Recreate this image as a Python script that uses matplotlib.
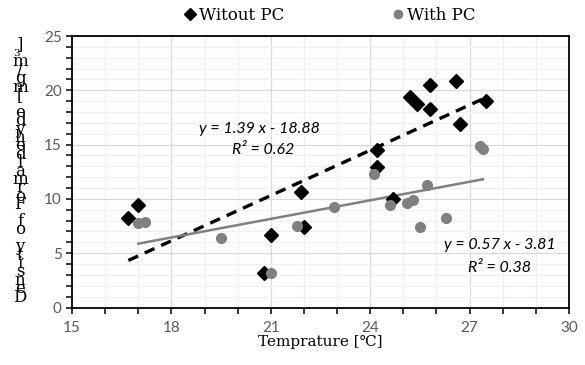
import numpy as np
import matplotlib.pyplot as plt
from matplotlib.lines import Line2D
from matplotlib.ticker import MultipleLocator

# Data
temp_without = [16.7, 17.0, 20.8, 21.0, 21.9, 22.0, 24.2, 24.2, 24.7, 25.2,
                25.4, 25.8, 25.8, 26.6, 26.7, 27.5]
dens_without = [8.2, 9.4, 3.2, 6.7, 10.6, 7.4, 14.5, 12.9, 10.0, 19.4,
                18.7, 20.5, 18.3, 20.9, 16.9, 19.0]

temp_with = [17.0, 17.2, 19.5, 21.0, 21.8, 22.9, 24.1, 24.6, 25.1, 25.3,
             25.5, 25.7, 26.3, 27.3, 27.4]
dens_with = [7.8, 7.9, 6.4, 3.2, 7.5, 9.3, 12.3, 9.4, 9.6, 9.9,
             7.4, 11.3, 8.2, 14.9, 14.6]

# trendline coefficients (slope, intercept, R^2) as printed on the chart
fit_without = (1.39, -18.88, 0.62)
fit_with = (0.57, -3.81, 0.38)

series_names = ['Witout PC', 'With PC']
x_ticks = [15, 18, 21, 24, 27, 30]
y_ticks = [0, 5, 10, 15, 20, 25]
ylabel_text = 'Density of Formaldehyde [mg/m3]'

W, H = 585, 365
fig = plt.figure(figsize=(W / 100, H / 100), dpi=100)
ax = fig.add_axes([72 / W, 1 - 307.5 / H, (569 - 72) / W, (307.5 - 36) / H])

grey = '#808080'
serif = ['DejaVu Serif', 'DejaVu Sans']

ax.set_xlim(15, 30)
ax.set_ylim(0, 25)
ax.set_xticks(x_ticks)
ax.set_yticks(y_ticks)
ax.xaxis.set_minor_locator(MultipleLocator(1))
ax.yaxis.set_minor_locator(MultipleLocator(1))
ax.grid(True, which='major', color='#d9d9d9', lw=0.9)
ax.grid(True, which='minor', color='#f0f0f0', lw=0.9)
ax.set_axisbelow(True)
for s in ax.spines.values():
    s.set_color('black')
    s.set_linewidth(1.3)
ax.tick_params(which='both', direction='out', length=4, width=1.1, color='black',
               labelsize=11, labelcolor='#595959')
ax.tick_params(axis='x', which='both', pad=6)
for lab in ax.get_xticklabels() + ax.get_yticklabels():
    lab.set_family('Lato')

# trendlines
xs = np.array([min(temp_without), max(temp_without)])
ax.plot(xs, fit_without[0] * xs + fit_without[1], color='black', lw=2.4,
        dashes=(3.2, 2.2), zorder=2)
xs2 = np.array([min(temp_with), max(temp_with)])
ax.plot(xs2, fit_with[0] * xs2 + fit_with[1], color=grey, lw=1.8, zorder=2)

ax.plot(temp_without, dens_without, 'D', color='black', ms=7, zorder=3)
ax.plot(temp_with, dens_with, 'o', color=grey, ms=7, zorder=3)

eq_font = dict(family='Lato', style='italic', fontsize=11.5, ha='center', va='center')
fig.text(259 / W, 1 - 129 / H, 'y = %.2f x - %.2f' % (fit_without[0], -fit_without[1]), **eq_font)
fig.text(263 / W, 1 - 150 / H, 'R² = %.2f' % fit_without[2], **eq_font)
fig.text(500 / W, 1 - 245 / H, 'y = %.2f x - %.2f' % (fit_with[0], -fit_with[1]), **eq_font)
fig.text(500 / W, 1 - 268 / H, 'R² = %.2f' % fit_with[2], **eq_font)

# x label
fig.text(320 / W, 1 - 342 / H, 'Temprature [℃]', family=serif, fontsize=11,
         ha='center', va='center')

# y label, characters stacked upright from bottom to top
y0, step = 297, 8.4
for i, ch in enumerate(ylabel_text):
    size = 7.5 if ch == '3' else 12
    dx = -3 if ch == '3' else 0
    fig.text((20 + dx) / W, 1 - (y0 - i * step) / H, ch, family=serif,
             fontsize=size, ha='center', va='center')

handles = [Line2D([], [], ls='', marker='D', color='black', ms=6),
           Line2D([], [], ls='', marker='o', color=grey, ms=6)]
fig.legend(handles, series_names, ncol=2, loc='center',
           bbox_to_anchor=(330 / W, 1 - 15 / H), frameon=False,
           prop={'family': serif, 'size': 12}, handlelength=0.6,
           handletextpad=0.25, columnspacing=6.5, borderpad=0)

fig.savefig('out.png', dpi=100)
